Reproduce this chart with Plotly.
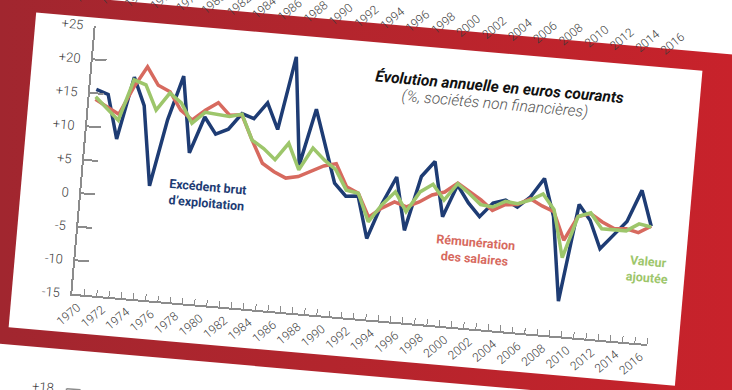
import plotly.graph_objects as go

# ---------------- data ----------------
years = list(range(1970, 2017))
ebe = [15.6, 15.0, 8.5, 17.9, 13.8, 2.0, 12.0, 18.7, 7.4, 12.9,
       10.5, 11.4, 13.9, 13.3, 15.8, 12.0, 23.0, 7.0, 15.5, 10.3,
       4.8, 3.0, 3.2, -3.0, 2.4, 6.5, -1.3, 6.9, 9.3, 1.2,
       6.1, 3.6, 1.7, 3.9, 4.5, 3.6, 5.3, 8.2, 2.7, -9.8,
       4.8, 2.6, -1.5, 0.7, 2.9, 7.7, 2.5]
salaires = [14.1, 13.1, 12.2, 16.3, 19.6, 17.0, 16.2, 13.6, 12.3, 13.9,
            15.2, 13.5, 13.7, 10.1, 6.8, 5.7, 4.9, 5.3, 6.2, 7.2,
            7.7, 4.4, 3.6, 0.2, 1.7, 2.8, 2.2, 3.1, 4.3, 4.9,
            6.4, 5.3, 4.2, 2.8, 3.8, 4.0, 5.0, 4.1, 3.4, -0.7,
            3.0, 3.6, 2.5, 1.7, 1.8, 1.4, 2.5]
va = [14.5, 12.9, 11.3, 17.5, 16.9, 13.3, 16.0, 14.7, 11.8, 13.6,
      13.5, 13.3, 13.8, 10.1, 9.0, 7.5, 10.1, 6.3, 9.7, 8.1,
      6.8, 3.9, 3.6, -0.5, 2.2, 4.3, 1.5, 4.6, 5.9, 3.7,
      6.3, 5.0, 3.5, 3.3, 4.3, 4.1, 4.8, 5.9, 3.7, -3.3,
      3.0, 3.7, 1.5, 1.5, 1.5, 2.7, 2.4]
y_ticks = [-15, -10, -5, 0, 5, 10, 15, 20, 25]
y_ticktext = ["-15", "-10", "-5", "0", "+5", "+10", "+15", "+20", "+25"]
x_labels = list(range(1970, 2017, 2))
upper_labels = list(range(1970, 2017, 2))

title = "Évolution annuelle en euros courants"
subtitle = "(%, sociétés non financières)"

BLUE = "#1e3c74"
RED = "#d76a5f"
GREEN = "#9dc66b"
GRAY = "#8c8c8c"
TXT = "#3a3a3a"
FONT = "Roboto"

# geometry helpers (unrotated frame of the 732x390 card)
PL, PR, PT, PB = 82.4, 658.7, 50.0, 319.0
def px(x):
    return (x - PL) / (PR - PL)
def py(y):
    return (PB - y) / (PB - PT)

fig = go.Figure()
fig.add_trace(go.Scatter(x=years, y=ebe, mode="lines",
                         line=dict(color=BLUE, width=3.5), name="EBE"))
fig.add_trace(go.Scatter(x=years, y=salaires, mode="lines",
                         line=dict(color=RED, width=3.5), name="Salaires"))
fig.add_trace(go.Scatter(x=years, y=va, mode="lines",
                         line=dict(color=GREEN, width=3.5), name="VA"))

shapes = [
    # upper card
    dict(type="rect", xref="paper", yref="paper", x0=px(76), x1=px(1000),
         y0=py(23), y1=py(-400), fillcolor="white", line_width=0, layer="below"),
    # main card
    dict(type="rect", xref="paper", yref="paper", x0=px(22), x1=px(690),
         y0=py(358), y1=py(42), fillcolor="white", line_width=0, layer="below"),
    # lower card
    dict(type="rect", xref="paper", yref="paper", x0=px(-60), x1=px(1000),
         y0=py(800), y1=py(375), fillcolor="white", line_width=0, layer="below"),
    # lower chart axis bits
    dict(type="line", xref="paper", yref="paper", x0=px(85), x1=px(85),
         y0=py(600), y1=py(414), line=dict(color=GRAY, width=1.5)),
    dict(type="line", xref="paper", yref="paper", x0=px(85), x1=px(99),
         y0=py(414), y1=py(414), line=dict(color=GRAY, width=1.5)),
]

annotations = [
    dict(xref="paper", yref="paper", x=px(490), y=py(76), xanchor="center", yanchor="middle",
         text="<b><i>" + title + "</i></b>",
         showarrow=False, font=dict(family=FONT, size=15.5, color="#111111")),
    dict(xref="paper", yref="paper", x=px(486), y=py(93), xanchor="center", yanchor="middle",
         text="<i>" + subtitle + "</i>",
         showarrow=False, font=dict(family=FONT, size=15.5, color="#555555", weight=300)),
    dict(x=1979.8, y=1.5, text="<b>Excédent brut<br>d’exploitation</b>", showarrow=False,
         font=dict(family=FONT, size=12.5, color=BLUE), align="center"),
    dict(x=2001.9, y=-3.4, text="<b>Rémunération<br>des salaires</b>", showarrow=False,
         font=dict(family=FONT, size=12.5, color=RED), align="center"),
    dict(x=2016.0, y=-3.9, text="<b>Valeur<br>ajoutée</b>", showarrow=False,
         font=dict(family=FONT, size=12.5, color=GREEN), align="center"),
    dict(xref="paper", yref="paper", x=px(74), y=py(414), xanchor="right", yanchor="middle",
         text="+18", showarrow=False, font=dict(family=FONT, size=13, color=TXT, weight=300)),
]
for yr in upper_labels:
    annotations.append(dict(xref="paper", yref="paper",
                            x=px(676 - (2016 - yr) * 12.8), y=py(0),
                            xanchor="right", yanchor="top", textangle=-45,
                            text=str(yr), showarrow=False,
                            font=dict(family=FONT, size=12, color=TXT, weight=300)))

fig.update_layout(
    width=932, height=590,
    margin=dict(l=182, r=173, t=150, b=171),
    paper_bgcolor="rgba(0,0,0,0)", plot_bgcolor="rgba(0,0,0,0)",
    showlegend=False,
    shapes=shapes, annotations=annotations,
    font=dict(family=FONT, color=TXT),
)
fig.update_xaxes(range=[1969.5, 2016.5], showgrid=False, zeroline=False,
                 showline=True, linecolor=GRAY, linewidth=1.5,
                 tickmode="array", tickvals=x_labels, ticktext=[str(v) for v in x_labels],
                 ticks="", tickangle=-45,
                 tickfont=dict(family=FONT, size=12, color=TXT, weight=300),
                 minor=dict(tickmode="array", tickvals=[v + 0.5 for v in years],
                            ticks="inside", ticklen=6, tickcolor=GRAY, tickwidth=1.3))
fig.update_yaxes(range=[-15, 25], showgrid=False, zeroline=False,
                 showline=True, linecolor=GRAY, linewidth=1.5,
                 tickmode="array", tickvals=y_ticks, ticktext=y_ticktext,
                 ticks="inside", ticklen=14, tickcolor=GRAY, tickwidth=1.5,
                 ticklabelstandoff=8,
                 tickfont=dict(family=FONT, size=13, color=TXT, weight=300))

post = """
var gd = document.getElementById('{plot_id}');
var de = document.documentElement;
de.style.height = '100%';
de.style.overflow = 'hidden';
de.style.background = 'linear-gradient(90deg, #a1262f 0%, #b3252d 45%, #c8222b 100%)';
document.body.style.margin = '0';
document.body.style.overflow = 'hidden';
document.body.style.background = 'transparent';
gd.style.position = 'absolute';
gd.style.left = '-100px';
gd.style.top = '-100px';
gd.style.transformOrigin = '50% 50%';
gd.style.transform = 'rotate(5deg)';
"""

fig.write_html("out.html", post_script=post, config={"displayModeBar": False})
